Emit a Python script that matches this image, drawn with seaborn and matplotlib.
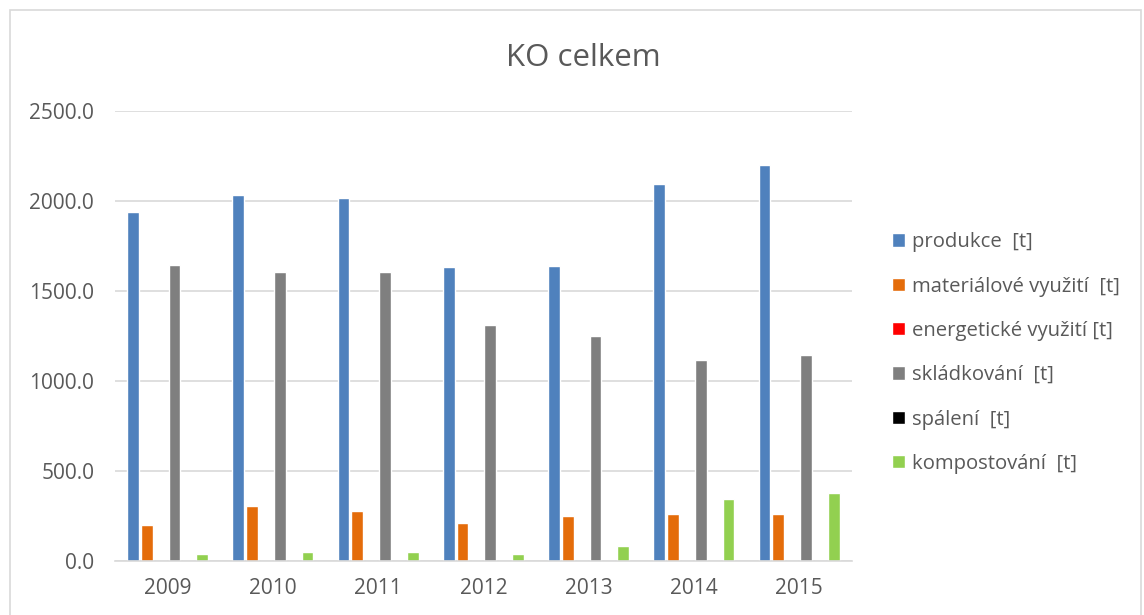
import matplotlib
matplotlib.use("Agg")
import matplotlib.pyplot as plt
from matplotlib.patches import Patch, Rectangle
import seaborn as sns
import pandas as pd

# data
years = ["2009", "2010", "2011", "2012", "2013", "2014", "2015"]
produkce = [1939, 2032, 2013, 1632, 1636, 2095, 2198]
materialove = [198, 302, 276, 209, 247, 263, 263]
energeticke = [0, 0, 0, 0, 0, 0, 0]
skladkovani = [1643, 1604, 1602, 1308, 1247, 1113, 1144]
spaleni = [0, 0, 0, 0, 0, 0, 0]
kompostovani = [37, 48, 48, 39, 85, 344, 376]

series_names = ["produkce  [t]", "materiálové využití  [t]", "energetické využití [t]",
                "skládkování  [t]", "spálení  [t]", "kompostování  [t]"]
series_values = [produkce, materialove, energeticke, skladkovani, spaleni, kompostovani]
colors = ["#4f81bd", "#e46c0a", "#ff0000", "#7f7f7f", "#000000", "#92d050"]

rows = []
for name, vals in zip(series_names, series_values):
    for y, v in zip(years, vals):
        rows.append({"rok": y, "serie": name, "hodnota": v})
df = pd.DataFrame(rows)

sns.set_style("white")
plt.rcParams["font.family"] = ["Open Sans", "DejaVu Sans"]

fig = plt.figure(figsize=(11.44, 6.15), dpi=100)
ax = fig.add_axes([0.1005, 0.088, 0.644, 0.732])

sns.barplot(data=df, x="rok", y="hodnota", hue="serie", hue_order=series_names,
            palette=colors, width=0.79, gap=0.15, saturation=1, ax=ax,
            legend=False, errorbar=None)

ax.set_ylim(0, 2500)
ax.set_yticks(range(0, 2501, 500))
ax.set_yticklabels([f"{v:.1f}" for v in range(0, 2501, 500)])
ax.set_xlabel("")
ax.set_ylabel("")
ax.grid(axis="y", color="#d9d9d9", linewidth=1.2)
ax.set_axisbelow(True)
for s in ["top", "right", "left"]:
    ax.spines[s].set_visible(False)
ax.spines["bottom"].set_color("#d9d9d9")
ax.spines["bottom"].set_linewidth(1.2)
ax.tick_params(axis="y", length=0, labelsize=15, colors="#595959", pad=15)
ax.tick_params(axis="x", length=0, labelsize=15, colors="#595959", pad=12)

fig.text(0.51, 0.905, "KO celkem", ha="center", va="center", fontsize=22.5, color="#595959")

handles = [Patch(facecolor=c, label=n) for c, n in zip(colors, series_names)]
fig.legend(handles=handles, loc="center left", bbox_to_anchor=(0.764, 0.426),
           frameon=False, fontsize=14.6, labelcolor="#595959", labelspacing=1.2,
           handlelength=0.65, handleheight=0.65, handletextpad=0.3)

fig.patches.append(Rectangle((0.009, -0.01), 0.988, 0.994, transform=fig.transFigure,
                             fill=False, edgecolor="#d9d9d9", linewidth=1.2))

fig.savefig("out.png", dpi=100)
